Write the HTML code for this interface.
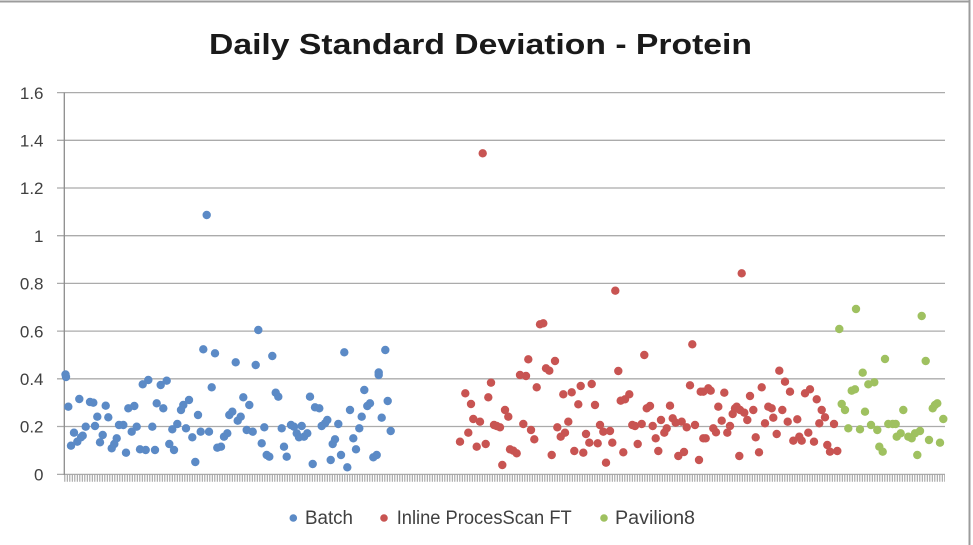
<!DOCTYPE html>
<html><head><meta charset="utf-8"><style>
html,body{margin:0;padding:0;background:#fff;}
svg{display:block;}
</style></head><body>
<svg width="973" height="545" viewBox="0 0 973 545" xmlns="http://www.w3.org/2000/svg">
<rect x="0" y="0" width="973" height="545" fill="#fff"/>
<line x1="0" y1="1.5" x2="970" y2="1.5" stroke="#9c9c9c" stroke-width="2"/>
<line x1="969.5" y1="0" x2="969.5" y2="545" stroke="#9c9c9c" stroke-width="2"/>
<text x="209" y="54" font-family="Liberation Sans, sans-serif" font-weight="bold" font-size="29" fill="#1a1a1a" textLength="543" lengthAdjust="spacingAndGlyphs">Daily Standard Deviation - Protein</text>
<g stroke="#ababab" stroke-width="1.3">
<line x1="57" y1="92.6" x2="945" y2="92.6"/>
<line x1="57" y1="140.3" x2="945" y2="140.3"/>
<line x1="57" y1="188" x2="945" y2="188"/>
<line x1="57" y1="235.7" x2="945" y2="235.7"/>
<line x1="57" y1="283.4" x2="945" y2="283.4"/>
<line x1="57" y1="331.1" x2="945" y2="331.1"/>
<line x1="57" y1="378.8" x2="945" y2="378.8"/>
<line x1="57" y1="426.5" x2="945" y2="426.5"/>
<line x1="57" y1="474.4" x2="945" y2="474.4"/>
</g>
<line x1="64.3" y1="92.6" x2="64.3" y2="475" stroke="#8c8c8c" stroke-width="1.3"/>
<line x1="64.3" y1="478.2" x2="945" y2="478.2" stroke="#9a9a9a" stroke-width="7" stroke-dasharray="1 1.5"/>
<g font-family="Liberation Sans, sans-serif" font-size="17" fill="#404040" text-anchor="end">
<text x="43.5" y="98.8">1.6</text>
<text x="43.5" y="146.5">1.4</text>
<text x="43.5" y="194.2">1.2</text>
<text x="43.5" y="241.9">1</text>
<text x="43.5" y="289.6">0.8</text>
<text x="43.5" y="337.3">0.6</text>
<text x="43.5" y="385">0.4</text>
<text x="43.5" y="432.7">0.2</text>
<text x="43.5" y="480.5">0</text>
</g>
<g fill="#5b8ac6">
<circle cx="65.5" cy="374.5" r="4.2"/><circle cx="66" cy="377" r="4.2"/><circle cx="68.3" cy="406.7" r="4.2"/><circle cx="71" cy="445.7" r="4.2"/><circle cx="74" cy="432.7" r="4.2"/><circle cx="77.3" cy="441.7" r="4.2"/><circle cx="79.3" cy="399" r="4.2"/><circle cx="81" cy="437.3" r="4.2"/><circle cx="82.7" cy="435.7" r="4.2"/><circle cx="85.7" cy="426.7" r="4.2"/><circle cx="90" cy="402" r="4.2"/><circle cx="93.3" cy="402.7" r="4.2"/><circle cx="95" cy="426" r="4.2"/><circle cx="97.3" cy="416.7" r="4.2"/><circle cx="100" cy="442.3" r="4.2"/><circle cx="102.7" cy="435" r="4.2"/><circle cx="105.7" cy="405.7" r="4.2"/><circle cx="108.3" cy="417.3" r="4.2"/><circle cx="111.7" cy="448.3" r="4.2"/><circle cx="114.3" cy="444" r="4.2"/><circle cx="116.7" cy="438.3" r="4.2"/><circle cx="119" cy="425" r="4.2"/><circle cx="123.3" cy="425" r="4.2"/><circle cx="126" cy="452.7" r="4.2"/><circle cx="128.3" cy="408.3" r="4.2"/><circle cx="131.7" cy="431.7" r="4.2"/><circle cx="134.3" cy="406" r="4.2"/><circle cx="136.7" cy="426.7" r="4.2"/><circle cx="140" cy="449.3" r="4.2"/><circle cx="142.7" cy="384.3" r="4.2"/><circle cx="145.7" cy="450" r="4.2"/><circle cx="148.3" cy="380" r="4.2"/><circle cx="152.3" cy="426.7" r="4.2"/><circle cx="155" cy="450" r="4.2"/><circle cx="156.7" cy="403.3" r="4.2"/><circle cx="160.7" cy="385" r="4.2"/><circle cx="163.3" cy="408.3" r="4.2"/><circle cx="166.7" cy="380.7" r="4.2"/><circle cx="169.3" cy="444" r="4.2"/><circle cx="172.3" cy="429.3" r="4.2"/><circle cx="174" cy="450" r="4.2"/><circle cx="177.3" cy="424" r="4.2"/><circle cx="181" cy="410" r="4.2"/><circle cx="183.3" cy="405" r="4.2"/><circle cx="186" cy="428.3" r="4.2"/><circle cx="189" cy="400" r="4.2"/><circle cx="192.3" cy="437.3" r="4.2"/><circle cx="195.3" cy="462" r="4.2"/><circle cx="198" cy="415" r="4.2"/><circle cx="200.7" cy="431.7" r="4.2"/><circle cx="203.3" cy="349.3" r="4.2"/><circle cx="206.7" cy="215" r="4.2"/><circle cx="209" cy="431.7" r="4.2"/><circle cx="211.7" cy="387.3" r="4.2"/><circle cx="215" cy="353.3" r="4.2"/><circle cx="217.3" cy="447.7" r="4.2"/><circle cx="221" cy="446.7" r="4.2"/><circle cx="224" cy="436.7" r="4.2"/><circle cx="227.3" cy="433.3" r="4.2"/><circle cx="229.3" cy="415" r="4.2"/><circle cx="232.3" cy="411.7" r="4.2"/><circle cx="235.7" cy="362.3" r="4.2"/><circle cx="237.7" cy="420.7" r="4.2"/><circle cx="240.7" cy="416.7" r="4.2"/><circle cx="243.3" cy="397.3" r="4.2"/><circle cx="246.7" cy="430" r="4.2"/><circle cx="249.3" cy="405" r="4.2"/><circle cx="252.7" cy="431.7" r="4.2"/><circle cx="255.7" cy="365" r="4.2"/><circle cx="258.3" cy="330" r="4.2"/><circle cx="261.7" cy="443.3" r="4.2"/><circle cx="264.3" cy="427.3" r="4.2"/><circle cx="266.7" cy="455" r="4.2"/><circle cx="269.3" cy="456.7" r="4.2"/><circle cx="272.3" cy="356" r="4.2"/><circle cx="275.7" cy="392.7" r="4.2"/><circle cx="278.3" cy="396.7" r="4.2"/><circle cx="281.7" cy="428.3" r="4.2"/><circle cx="284" cy="446.7" r="4.2"/><circle cx="286.7" cy="456.7" r="4.2"/><circle cx="291" cy="425" r="4.2"/><circle cx="294" cy="426.7" r="4.2"/><circle cx="296.7" cy="433.3" r="4.2"/><circle cx="299" cy="437.3" r="4.2"/><circle cx="301.7" cy="426" r="4.2"/><circle cx="304" cy="436.7" r="4.2"/><circle cx="307.3" cy="433.3" r="4.2"/><circle cx="310" cy="396.7" r="4.2"/><circle cx="312.7" cy="464" r="4.2"/><circle cx="315" cy="407.3" r="4.2"/><circle cx="319.3" cy="408.3" r="4.2"/><circle cx="321.7" cy="426" r="4.2"/><circle cx="325" cy="423.3" r="4.2"/><circle cx="327.3" cy="420" r="4.2"/><circle cx="330.7" cy="460" r="4.2"/><circle cx="332.7" cy="444" r="4.2"/><circle cx="335" cy="439.3" r="4.2"/><circle cx="338.3" cy="424" r="4.2"/><circle cx="341" cy="455" r="4.2"/><circle cx="344.3" cy="352.3" r="4.2"/><circle cx="347.3" cy="467.3" r="4.2"/><circle cx="350" cy="410" r="4.2"/><circle cx="353.3" cy="438.3" r="4.2"/><circle cx="356" cy="449.3" r="4.2"/><circle cx="359.3" cy="428.3" r="4.2"/><circle cx="361.7" cy="416.7" r="4.2"/><circle cx="364.3" cy="390" r="4.2"/><circle cx="367.3" cy="406" r="4.2"/><circle cx="370" cy="403.3" r="4.2"/><circle cx="373.3" cy="457.3" r="4.2"/><circle cx="376.7" cy="455" r="4.2"/><circle cx="378.7" cy="375" r="4.2"/><circle cx="378.7" cy="372.5" r="4.2"/><circle cx="381.7" cy="417.7" r="4.2"/><circle cx="385.3" cy="350" r="4.2"/><circle cx="387.7" cy="401" r="4.2"/><circle cx="390.7" cy="431" r="4.2"/>
</g>
<g fill="#c85452">
<circle cx="460" cy="441.7" r="4.2"/><circle cx="465.3" cy="393.3" r="4.2"/><circle cx="468.3" cy="432.7" r="4.2"/><circle cx="471" cy="404" r="4.2"/><circle cx="473.3" cy="419" r="4.2"/><circle cx="476.7" cy="446.7" r="4.2"/><circle cx="480" cy="421.7" r="4.2"/><circle cx="482.7" cy="153.3" r="4.2"/><circle cx="485.7" cy="444" r="4.2"/><circle cx="488.3" cy="397.3" r="4.2"/><circle cx="491" cy="382.7" r="4.2"/><circle cx="494" cy="425" r="4.2"/><circle cx="496.7" cy="426" r="4.2"/><circle cx="500" cy="427.3" r="4.2"/><circle cx="502.3" cy="465" r="4.2"/><circle cx="505" cy="410" r="4.2"/><circle cx="508.3" cy="416.7" r="4.2"/><circle cx="510" cy="449.3" r="4.2"/><circle cx="513.3" cy="450.7" r="4.2"/><circle cx="516.7" cy="453.3" r="4.2"/><circle cx="520" cy="375" r="4.2"/><circle cx="523.3" cy="424" r="4.2"/><circle cx="526" cy="376" r="4.2"/><circle cx="528.3" cy="359.3" r="4.2"/><circle cx="531" cy="430" r="4.2"/><circle cx="534.3" cy="439.3" r="4.2"/><circle cx="536.7" cy="387.3" r="4.2"/><circle cx="540" cy="324.3" r="4.2"/><circle cx="543.3" cy="323.3" r="4.2"/><circle cx="546" cy="368.3" r="4.2"/><circle cx="549.3" cy="370.7" r="4.2"/><circle cx="551.7" cy="455" r="4.2"/><circle cx="555" cy="361" r="4.2"/><circle cx="557.3" cy="427.3" r="4.2"/><circle cx="560.7" cy="436.7" r="4.2"/><circle cx="563.3" cy="394.3" r="4.2"/><circle cx="565" cy="432.7" r="4.2"/><circle cx="568.3" cy="421.7" r="4.2"/><circle cx="571.7" cy="392.3" r="4.2"/><circle cx="574.3" cy="451" r="4.2"/><circle cx="578.3" cy="404.3" r="4.2"/><circle cx="580.7" cy="386" r="4.2"/><circle cx="583.3" cy="452.7" r="4.2"/><circle cx="586" cy="434" r="4.2"/><circle cx="589.3" cy="442.7" r="4.2"/><circle cx="591.7" cy="384" r="4.2"/><circle cx="595" cy="405" r="4.2"/><circle cx="597.7" cy="443.3" r="4.2"/><circle cx="600" cy="425" r="4.2"/><circle cx="603.3" cy="431.7" r="4.2"/><circle cx="606" cy="462.7" r="4.2"/><circle cx="610" cy="431" r="4.2"/><circle cx="612.3" cy="442.7" r="4.2"/><circle cx="615.3" cy="290.7" r="4.2"/><circle cx="618.3" cy="371" r="4.2"/><circle cx="620.7" cy="400.7" r="4.2"/><circle cx="623.3" cy="452.3" r="4.2"/><circle cx="625" cy="399.3" r="4.2"/><circle cx="629.3" cy="394.3" r="4.2"/><circle cx="632.3" cy="425" r="4.2"/><circle cx="635" cy="426" r="4.2"/><circle cx="637.7" cy="444" r="4.2"/><circle cx="641.7" cy="424" r="4.2"/><circle cx="644.3" cy="355" r="4.2"/><circle cx="646.7" cy="408.3" r="4.2"/><circle cx="650" cy="406" r="4.2"/><circle cx="652.7" cy="426" r="4.2"/><circle cx="655.7" cy="438.3" r="4.2"/><circle cx="658.3" cy="451" r="4.2"/><circle cx="661" cy="420" r="4.2"/><circle cx="664.3" cy="432.7" r="4.2"/><circle cx="666.7" cy="428.3" r="4.2"/><circle cx="670" cy="405.7" r="4.2"/><circle cx="672.7" cy="418.3" r="4.2"/><circle cx="675.7" cy="422.7" r="4.2"/><circle cx="678.3" cy="456" r="4.2"/><circle cx="681.7" cy="421.7" r="4.2"/><circle cx="684" cy="452" r="4.2"/><circle cx="686.7" cy="427.3" r="4.2"/><circle cx="690" cy="385.3" r="4.2"/><circle cx="692.3" cy="344.3" r="4.2"/><circle cx="695" cy="425" r="4.2"/><circle cx="699" cy="460" r="4.2"/><circle cx="700.7" cy="391.7" r="4.2"/><circle cx="703.3" cy="391.7" r="4.2"/><circle cx="703.3" cy="438.3" r="4.2"/><circle cx="705.7" cy="438.3" r="4.2"/><circle cx="708.3" cy="388.3" r="4.2"/><circle cx="710.7" cy="390.7" r="4.2"/><circle cx="713.3" cy="428.3" r="4.2"/><circle cx="716" cy="432.3" r="4.2"/><circle cx="718.3" cy="406.7" r="4.2"/><circle cx="721.7" cy="420.7" r="4.2"/><circle cx="724.3" cy="392.7" r="4.2"/><circle cx="727.3" cy="432.7" r="4.2"/><circle cx="730" cy="426" r="4.2"/><circle cx="732.7" cy="414" r="4.2"/><circle cx="735" cy="408.3" r="4.2"/><circle cx="736.7" cy="406.7" r="4.2"/><circle cx="739.3" cy="456" r="4.2"/><circle cx="740" cy="410" r="4.2"/><circle cx="741.7" cy="273.3" r="4.2"/><circle cx="744.3" cy="412.7" r="4.2"/><circle cx="747.3" cy="420" r="4.2"/><circle cx="750" cy="396" r="4.2"/><circle cx="753.3" cy="410" r="4.2"/><circle cx="755.7" cy="437.3" r="4.2"/><circle cx="759" cy="452.3" r="4.2"/><circle cx="761.7" cy="387.3" r="4.2"/><circle cx="765" cy="423.3" r="4.2"/><circle cx="768.3" cy="406.7" r="4.2"/><circle cx="771.7" cy="408.3" r="4.2"/><circle cx="773.3" cy="417.7" r="4.2"/><circle cx="776.7" cy="434" r="4.2"/><circle cx="779.3" cy="370.7" r="4.2"/><circle cx="782.3" cy="410" r="4.2"/><circle cx="785" cy="381.7" r="4.2"/><circle cx="787.7" cy="421.7" r="4.2"/><circle cx="790" cy="391.7" r="4.2"/><circle cx="793.3" cy="440.7" r="4.2"/><circle cx="797.3" cy="419.3" r="4.2"/><circle cx="799.3" cy="436.7" r="4.2"/><circle cx="801.7" cy="440.7" r="4.2"/><circle cx="805" cy="393.3" r="4.2"/><circle cx="808.3" cy="432.7" r="4.2"/><circle cx="810" cy="389.3" r="4.2"/><circle cx="814" cy="441.7" r="4.2"/><circle cx="816.7" cy="399.3" r="4.2"/><circle cx="819.3" cy="423.3" r="4.2"/><circle cx="821.7" cy="410" r="4.2"/><circle cx="825" cy="417.3" r="4.2"/><circle cx="827.3" cy="445" r="4.2"/><circle cx="830" cy="451.7" r="4.2"/><circle cx="834" cy="424" r="4.2"/><circle cx="837.3" cy="451" r="4.2"/>
</g>
<g fill="#9fc160">
<circle cx="839.3" cy="329" r="4.2"/><circle cx="841.7" cy="404" r="4.2"/><circle cx="845" cy="410" r="4.2"/><circle cx="848.3" cy="428.3" r="4.2"/><circle cx="851.7" cy="390.7" r="4.2"/><circle cx="855" cy="389.3" r="4.2"/><circle cx="856" cy="309" r="4.2"/><circle cx="860" cy="429.3" r="4.2"/><circle cx="862.7" cy="372.7" r="4.2"/><circle cx="865" cy="411.7" r="4.2"/><circle cx="868.3" cy="384.3" r="4.2"/><circle cx="871" cy="425" r="4.2"/><circle cx="874.3" cy="382.3" r="4.2"/><circle cx="877.3" cy="430" r="4.2"/><circle cx="879.3" cy="446.7" r="4.2"/><circle cx="882.7" cy="451.7" r="4.2"/><circle cx="885" cy="359" r="4.2"/><circle cx="888.3" cy="424" r="4.2"/><circle cx="892.7" cy="424" r="4.2"/><circle cx="895.7" cy="424" r="4.2"/><circle cx="896.7" cy="436.7" r="4.2"/><circle cx="900.7" cy="433.3" r="4.2"/><circle cx="903.3" cy="410" r="4.2"/><circle cx="908.3" cy="436.7" r="4.2"/><circle cx="911.7" cy="438.3" r="4.2"/><circle cx="915" cy="433.3" r="4.2"/><circle cx="917.3" cy="455" r="4.2"/><circle cx="920" cy="431" r="4.2"/><circle cx="921.7" cy="316" r="4.2"/><circle cx="925.7" cy="361" r="4.2"/><circle cx="929" cy="440" r="4.2"/><circle cx="932.7" cy="408.3" r="4.2"/><circle cx="935" cy="405" r="4.2"/><circle cx="937.3" cy="403.3" r="4.2"/><circle cx="940" cy="442.7" r="4.2"/><circle cx="943.3" cy="419" r="4.2"/>
</g>
<circle cx="293.3" cy="518" r="3.8" fill="#5b8ac6"/>
<circle cx="384" cy="518" r="3.8" fill="#c85452"/>
<circle cx="604" cy="518" r="3.8" fill="#9fc160"/>
<g font-family="Liberation Sans, sans-serif" font-size="19" fill="#404040">
<text x="305" y="524" textLength="48" lengthAdjust="spacingAndGlyphs">Batch</text>
<text x="396.7" y="524" textLength="175" lengthAdjust="spacingAndGlyphs">Inline ProcesScan FT</text>
<text x="615" y="524" textLength="80" lengthAdjust="spacingAndGlyphs">Pavilion8</text>
</g>
</svg>
</body></html>
